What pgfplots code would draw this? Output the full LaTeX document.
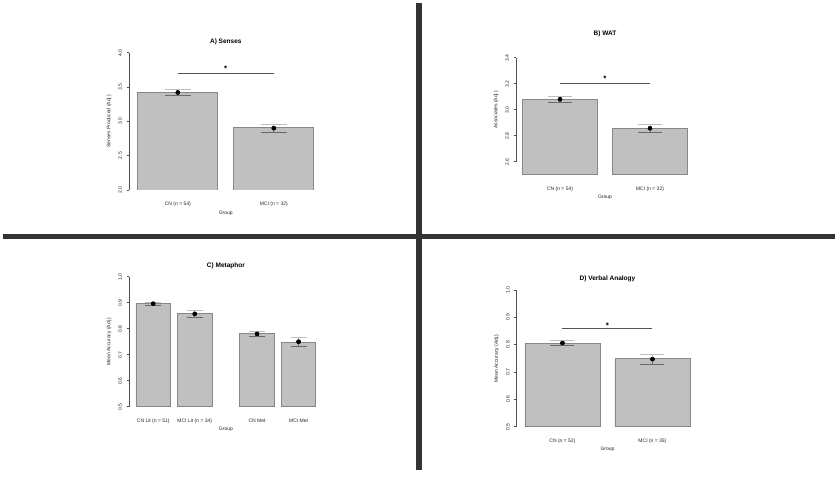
\documentclass[border=0pt]{standalone}
\usepackage{pgfplots}
\pgfplotsset{compat=1.18}
\usepackage{fontspec}
\setmainfont{Liberation Sans}

\definecolor{barfill}{RGB}{192,192,192}
\definecolor{barline}{RGB}{135,135,135}
\definecolor{divider}{RGB}{51,51,51}
\definecolor{sigline}{RGB}{85,85,85}
\definecolor{capup}{RGB}{190,190,190}
\definecolor{caplo}{RGB}{105,105,105}
\definecolor{axisgray}{RGB}{80,80,80}

\tikzset{sigstar/.style={font=\bfseries\fontsize{8}{8}\selectfont}}

\pgfplotsset{
  panel/.style={
    anchor=south west, scale only axis,
    axis lines*=left,
    x axis line style={draw=none},
    y axis line style={draw=none},
    clip mode=individual,
    tick align=outside,
    major tick length=2.5pt,
    xtick style={draw=none},
    ytick style={axisgray, line width=0.5pt},
    xtick=data,
    tick label style={font=\fontsize{5}{6}\selectfont, text=black!85},
    yticklabel style={rotate=90, anchor=south, yshift=1pt,
      /pgf/number format/.cd, fixed, fixed zerofill, precision=1, assume math mode=true},
    xticklabel style={yshift=-6pt},
    label style={font=\fontsize{5}{6}\selectfont, text=black!85},
    ylabel style={at={(axis description cs:0,0.5)}, anchor=center, yshift=20pt},
    xlabel style={at={(axis description cs:0.5,0)}, anchor=center, yshift=-23pt},
    title style={at={(axis description cs:0.5,1)}, anchor=center, yshift=5pt,
      font=\bfseries\fontsize{6.5}{7}\selectfont},
  },
  bars/.style={ybar, bar width=1, fill=barfill, draw=barline, line width=0.8pt},
  means/.style={only marks, mark=*, mark size=0.9pt, black},
  errup/.style={forget plot, only marks, mark=none,
    error bars/.cd, y dir=plus, y explicit, error mark=|,
    error bar style={capup, line width=0.9pt},
    error mark options={capup, line width=0.9pt, mark size=#1}},
  errlo/.style={forget plot, only marks, mark=none,
    error bars/.cd, y dir=minus, y explicit, error mark=|,
    error bar style={caplo, line width=0.9pt},
    error mark options={caplo, line width=0.9pt, mark size=#1}},
  sig/.style={no markers, sigline, line width=1.4pt},
}

\begin{document}
\begin{tikzpicture}
\fill[white] (0,0) rectangle (838pt,477pt);
\fill[divider] (416pt,7pt) rectangle (422pt,474pt);
\fill[divider] (3pt,238pt) rectangle (835pt,243pt);

% A) Senses
\begin{axis}[panel, at={(129pt,287pt)}, width=193.6pt, height=137.3pt,
  xmin=0.09, xmax=2.51, ymin=2, ymax=4, ytick={2,2.5,3,3.5,4},
  xticklabels={CN (n = 54), MCI (n = 32)},
  title={A) Senses}, xlabel={Group}, ylabel={Senses Produced (Adj.)}]
\addplot[bars] coordinates {(0.7,3.42) (1.9,2.905)};
\addplot[errup=13pt] coordinates {(0.7,3.42) +- (0,0.049) (1.9,2.90) +- (0,0.06)};
\addplot[errlo=13pt] coordinates {(0.7,3.42) +- (0,0.049) (1.9,2.90) +- (0,0.06)};
\addplot[means] coordinates {(0.7,3.42) (1.9,2.91)};
\addplot[sig] coordinates {(0.7,3.70) (1.9,3.70)};
\node[sigstar] at (axis cs:1.3,3.76) {*};
\draw[axisgray, line width=0.6pt] (axis cs:0.09,2) -- (axis cs:0.09,4);
\end{axis}

% B) WAT
\begin{axis}[panel, at={(516pt,302.3pt)}, width=178pt, height=130pt,
  xmin=0.113, xmax=2.487, ymin=2.5, ymax=3.5, ytick={2.6,2.8,3.0,3.2,3.4},
  xticklabels={CN (n = 54), MCI (n = 32)},
  title={B) WAT}, xlabel={Group}, ylabel={Associates (Adj.)}]
\addplot[bars] coordinates {(0.7,3.08) (1.9,2.857)};
\addplot[errup=12pt] coordinates {(0.7,3.08) +- (0,0.022) (1.9,2.857) +- (0,0.031)};
\addplot[errlo=12pt] coordinates {(0.7,3.08) +- (0,0.022) (1.9,2.857) +- (0,0.031)};
\addplot[means] coordinates {(0.7,3.08) (1.9,2.857)};
\addplot[sig] coordinates {(0.7,3.20) (1.9,3.20)};
\node[sigstar] at (axis cs:1.3,3.24) {*};
\draw[axisgray, line width=0.6pt] (axis cs:0.113,2.6) -- (axis cs:0.113,3.4);
\end{axis}

% C) Metaphor
\begin{axis}[panel, at={(129pt,70.3pt)}, width=193.8pt, height=130pt,
  xmin=0, xmax=5.6, ymin=0.5, ymax=1.0, ytick={0.5,0.6,0.7,0.8,0.9,1.0},
  xticklabels={CN Lit (n = 51), MCI Lit (n = 34), CN Met, MCI Met},
  title={C) Metaphor}, xlabel={Group}, ylabel={Mean Accuracy (Adj.)}]
\addplot[bars] coordinates {(0.7,0.897) (1.9,0.858) (3.7,0.781) (4.9,0.747)};
\addplot[errup=8pt] coordinates {(0.7,0.896) +- (0,0.006) (1.9,0.857) +- (0,0.013) (3.7,0.780) +- (0,0.011) (4.9,0.750) +- (0,0.018)};
\addplot[errlo=8pt] coordinates {(0.7,0.896) +- (0,0.006) (1.9,0.857) +- (0,0.013) (3.7,0.780) +- (0,0.011) (4.9,0.750) +- (0,0.018)};
\addplot[means] coordinates {(0.7,0.896) (1.9,0.857) (3.7,0.780) (4.9,0.748)};
\draw[axisgray, line width=0.6pt] (axis cs:0,0.5) -- (axis cs:0,1.0);
\end{axis}

% D) Verbal Analogy
\begin{axis}[panel, at={(516.7pt,50.3pt)}, width=181.5pt, height=136.7pt,
  xmin=0.09, xmax=2.51, ymin=0.5, ymax=1.0, ytick={0.5,0.6,0.7,0.8,0.9,1.0},
  xticklabels={CN (n = 52), MCI (n = 35)},
  title={D) Verbal Analogy}, xlabel={Group}, ylabel={Mean Accuracy (Adj.)}]
\addplot[bars] coordinates {(0.7,0.806) (1.9,0.749)};
\addplot[errup=12pt] coordinates {(0.7,0.806) +- (0,0.01) (1.9,0.747) +- (0,0.018)};
\addplot[errlo=12pt] coordinates {(0.7,0.806) +- (0,0.01) (1.9,0.747) +- (0,0.018)};
\addplot[means] coordinates {(0.7,0.806) (1.9,0.747)};
\addplot[sig] coordinates {(0.7,0.86) (1.9,0.86)};
\node[sigstar] at (axis cs:1.3,0.871) {*};
\draw[axisgray, line width=0.6pt] (axis cs:0.09,0.5) -- (axis cs:0.09,1.0);
\end{axis}
\end{tikzpicture}
\end{document}
